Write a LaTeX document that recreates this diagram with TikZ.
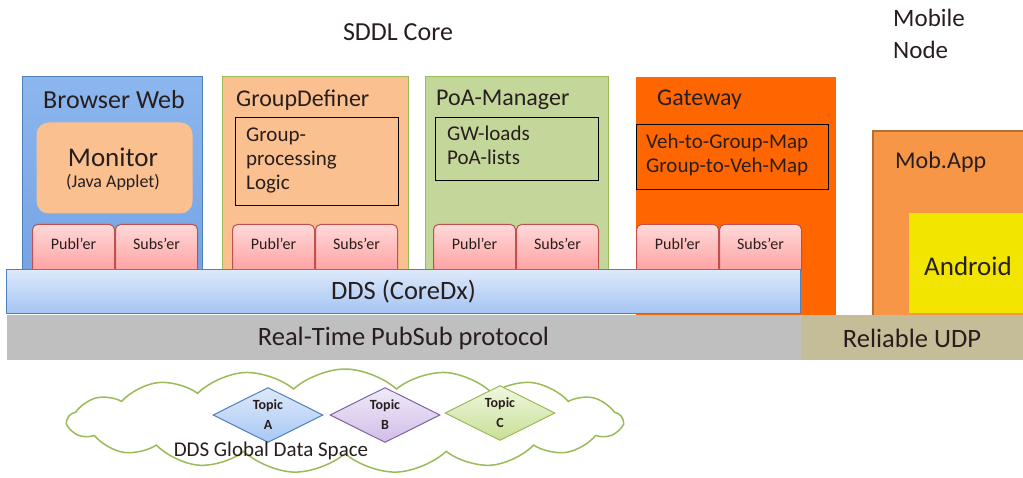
\documentclass[tikz,border=0pt]{standalone}
\usepackage{fontspec}
\setmainfont{Carlito}
\usetikzlibrary{positioning, shapes.geometric, shapes.symbols}

\definecolor{bwblue}{RGB}{118,164,228}
\definecolor{bwedge}{RGB}{79,129,189}
\definecolor{peach}{RGB}{250,192,144}
\definecolor{leaf}{RGB}{196,215,155}
\definecolor{leafedge}{RGB}{155,187,89}
\definecolor{gworange}{RGB}{255,102,0}
\definecolor{moborange}{RGB}{247,150,70}
\definecolor{mobedge}{RGB}{182,110,50}
\definecolor{andyellow}{RGB}{242,230,0}
\definecolor{pubedge}{RGB}{192,80,77}
\definecolor{rtgrey}{RGB}{191,191,191}
\definecolor{udptan}{RGB}{196,189,151}
\definecolor{purpleedge}{RGB}{128,100,162}
\definecolor{ink}{RGB}{40,30,30}

\tikzset{
  box/.style={anchor=north west, inner sep=0pt, line width=1pt, text=ink},
  inbox/.style={box, draw=black, line width=1.2pt},
  pubsub/.style={box, draw=pubedge, rounded corners=5pt, top color={rgb,255:red,255;green,216;blue,216},
    bottom color={rgb,255:red,255;green,158;blue,158}, minimum width=82pt, minimum height=50pt,
    font=\fontsize{16}{18}\selectfont, text depth=0pt},
  layer/.style={box, minimum height=45pt, font=\fontsize{26.5}{30}\selectfont},
  title/.style={anchor=west, inner sep=0pt, text=ink, font=\fontsize{24}{28}\selectfont},
  intext/.style={anchor=north west, inner sep=0pt, align=left, text=ink, font=\fontsize{21}{24}\selectfont},
  topic/.style={diamond, draw, line width=1pt, aspect=2, minimum width=110pt, minimum height=55pt,
    inner sep=0pt, align=center, text=ink, font=\fontsize{14}{20}\selectfont\bfseries}
}

\begin{document}
\begin{tikzpicture}[x=1pt, y=-1pt]
    \useasboundingbox (0,0) rectangle (1023,478);

    % headings
    \node[text=ink, font=\fontsize{26}{30}\selectfont] at (398,32) (sddl){SDDL Core};
    \node[anchor=north west, inner sep=0pt, align=left, text=ink, font=\fontsize{25}{32}\selectfont] at (893,9) (mobnode){Mobile\\Node};

    % component boxes
    \node[box, draw=bwedge, top color={rgb,255:red,140;green,182;blue,238}, bottom color=bwblue,
          minimum width=180pt, minimum height=194pt] at (22,76) (bw){};
    \node[box, draw=leafedge, fill=peach, minimum width=186pt, minimum height=194pt] at (222,76) (gd){};
    \node[box, draw=leafedge, fill=leaf, minimum width=183pt, minimum height=194pt] at (425,76) (pm){};
    \node[box, fill=gworange, minimum width=200pt, minimum height=238pt] at (635,77) (gw){};
    \node[box, draw=mobedge, line width=2pt, fill=moborange, minimum width=160pt, minimum height=185pt] at (872,130) (mob){};
    \node[box, fill=andyellow, minimum width=120pt, minimum height=100pt] at (908,213) (android){};

    \node[title, font=\fontsize{26}{30}\selectfont] at (43,100) (bwtitle){Browser Web};
    \node[title] at (236,100) (gdtitle){GroupDefiner};
    \node[title] at (436,100) (pmtitle){PoA-Manager};
    \node[title] at (657,100) (gwtitle){Gateway};
    \node[title] at (895,162) (mobtitle){Mob.App};
    \node[text=ink, font=\fontsize{27}{30}\selectfont] at (968,266) (andtext){Android};

    % inner boxes
    \node[box, fill=peach, rounded corners=12pt, minimum width=156pt, minimum height=91pt] at (36,122) (monitor){};
    \node[text=ink, font=\fontsize{27}{30}\selectfont] at (113,157) (montext){Monitor};
    \node[below = 4pt of montext, inner sep=0pt, text=ink, font=\fontsize{18}{20}\selectfont] (applet){(Java Applet)};

    \node[inbox, minimum width=163pt, minimum height=88pt] at (235,117) (gdlogic){};
    \node[intext] at (246,128) (gdtext){Group-\\processing\\Logic};
    \node[inbox, minimum width=163pt, minimum height=63pt] at (435,117) (pmlists){};
    \node[intext] at (447,126) (pmtext){GW-loads\\PoA-lists};
    \node[inbox, minimum width=192pt, minimum height=65pt] at (636,124) (gwmaps){};
    \node[intext] at (646,134) (gwtext){Veh-to-Group-Map\\Group-to-Veh-Map};

    % publishers and subscribers
    \node[pubsub] at (32,224) (bwpub){\raisebox{12pt}{Publ'er}};
    \node[pubsub] at (115,224) (bwsub){\raisebox{12pt}{Subs'er}};
    \node[pubsub] at (232,224) (gdpub){\raisebox{12pt}{Publ'er}};
    \node[pubsub] at (315,224) (gdsub){\raisebox{12pt}{Subs'er}};
    \node[pubsub] at (433,224) (pmpub){\raisebox{12pt}{Publ'er}};
    \node[pubsub] at (516,224) (pmsub){\raisebox{12pt}{Subs'er}};
    \node[pubsub] at (636,224) (gwpub){\raisebox{12pt}{Publ'er}};
    \node[pubsub] at (719,224) (gwsub){\raisebox{12pt}{Subs'er}};

    % layers
    \node[layer, draw=bwedge, top color={rgb,255:red,222;green,233;blue,250},
          bottom color={rgb,255:red,164;green,196;blue,242}, minimum width=794pt, minimum height=44pt] at (6,269) (dds){DDS (CoreDx)};
    \node[layer, fill=rtgrey, minimum width=794pt] at (6,315) (rtps){Real-Time PubSub protocol};
    \node[layer, fill=udptan, minimum width=223pt] at (800,315) (udp){Reliable UDP};

    % global data space
    \node[cloud, draw=leafedge, line width=1.5pt, fill=white, cloud puffs=17, cloud puff arc=85, aspect=5.5,
          minimum width=555pt, minimum height=104pt] at (345,421) (space){};
    \node[topic, draw=bwedge, top color={rgb,255:red,222;green,233;blue,250}, bottom color={rgb,255:red,168;green,200;blue,245}] at (268,415) (topica){Topic\\A};
    \node[topic, draw=purpleedge, top color={rgb,255:red,240;green,234;blue,248}, bottom color={rgb,255:red,208;green,190;blue,232}] at (385,415) (topicb){Topic\\B};
    \node[topic, draw=leafedge, top color={rgb,255:red,240;green,247;blue,224}, bottom color={rgb,255:red,200;green,224;blue,150}] at (500,413) (topicc){Topic\\C};
    \node[text=ink, font=\fontsize{21}{24}\selectfont] at (271,451) (spacetext){DDS Global Data Space};

\end{tikzpicture}
\end{document}
